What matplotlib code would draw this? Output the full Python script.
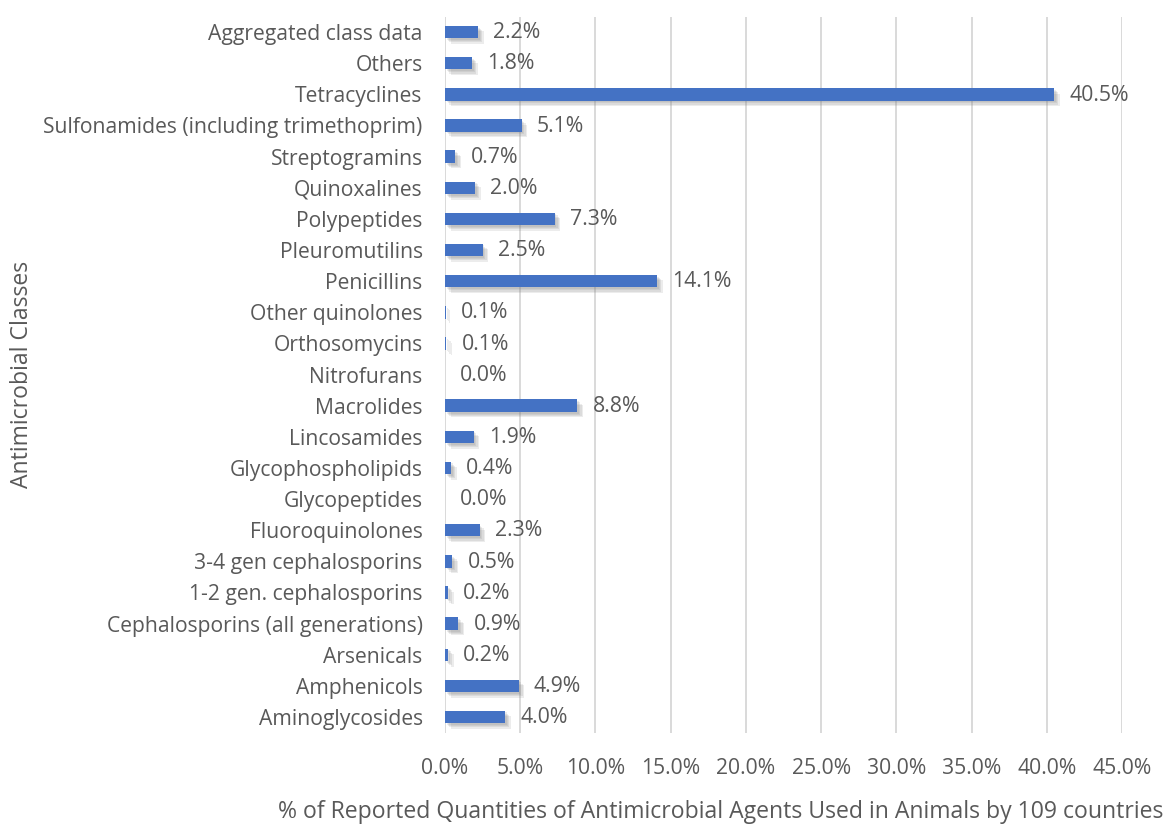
import matplotlib.pyplot as plt
import matplotlib.patheffects as pe
from matplotlib.ticker import PercentFormatter

classes = [
    "Aggregated class data", "Others", "Tetracyclines",
    "Sulfonamides (including trimethoprim)", "Streptogramins", "Quinoxalines",
    "Polypeptides", "Pleuromutilins", "Penicillins", "Other quinolones",
    "Orthosomycins", "Nitrofurans", "Macrolides", "Lincosamides",
    "Glycophospholipids", "Glycopeptides", "Fluoroquinolones",
    "3-4 gen cephalosporins", "1-2 gen. cephalosporins",
    "Cephalosporins (all generations)", "Arsenicals", "Amphenicols",
    "Aminoglycosides",
]
shares = [2.2, 1.8, 40.5, 5.1, 0.7, 2.0, 7.3, 2.5, 14.1, 0.06, 0.1, 0.0, 8.8,
          1.9, 0.4, 0.0, 2.3, 0.5, 0.2, 0.9, 0.2, 4.9, 4.0]

plt.rcParams['font.family'] = ['Open Sans', 'DejaVu Sans']
text_col = '#595959'

fig = plt.figure(figsize=(11.74, 8.25), dpi=100)
ax = fig.add_axes([0.379, 0.112, 0.5767, 0.868])

ypos = range(len(classes))
bars = ax.barh(ypos, shares, height=0.4, color='#4472C4', zorder=3)
# soft drop shadow, built from a few faint offset copies
shadow = [pe.SimplePatchShadow(offset=(o, -o), shadow_rgbFace='#808080', alpha=0.15)
          for o in (4.0, 3.0, 2.0, 1.2)]
for b in bars:
    b.set_path_effects(shadow + [pe.Normal()])

for y, v in zip(ypos, shares):
    ax.annotate(f"{v:.1f}%", (v, y), xytext=(11, -0.5), textcoords='offset points',
                va='center', ha='left', fontsize=15.3, color=text_col)

ax.set_xlim(0, 45)
ax.set_xticks(range(0, 46, 5))
ax.xaxis.set_major_formatter(PercentFormatter(decimals=1))
ax.set_ylim(len(classes) - 0.5, -0.5)
ax.set_yticks(list(ypos))
ax.set_yticklabels(classes)

ax.grid(axis='x', color='#d9d9d9', linewidth=1.4, zorder=0)
for s in ax.spines.values():
    s.set_visible(False)
ax.tick_params(axis='both', length=0, labelsize=15.2, labelcolor=text_col)
ax.tick_params(axis='x', pad=18)
ax.tick_params(axis='y', pad=16)

ax.set_xlabel("% of Reported Quantities of Antimicrobial Agents Used in Animals by 109 countries",
              fontsize=16.6, color=text_col)
ax.xaxis.label.set_va('center')
ax.xaxis.set_label_coords(0.408, -0.111)
ax.set_ylabel("Antimicrobial Classes", fontsize=16.6, color=text_col)
ax.yaxis.label.set_va('center')
ax.yaxis.set_label_coords(-0.625, 0.5)

fig.savefig("out.png", dpi=100)
